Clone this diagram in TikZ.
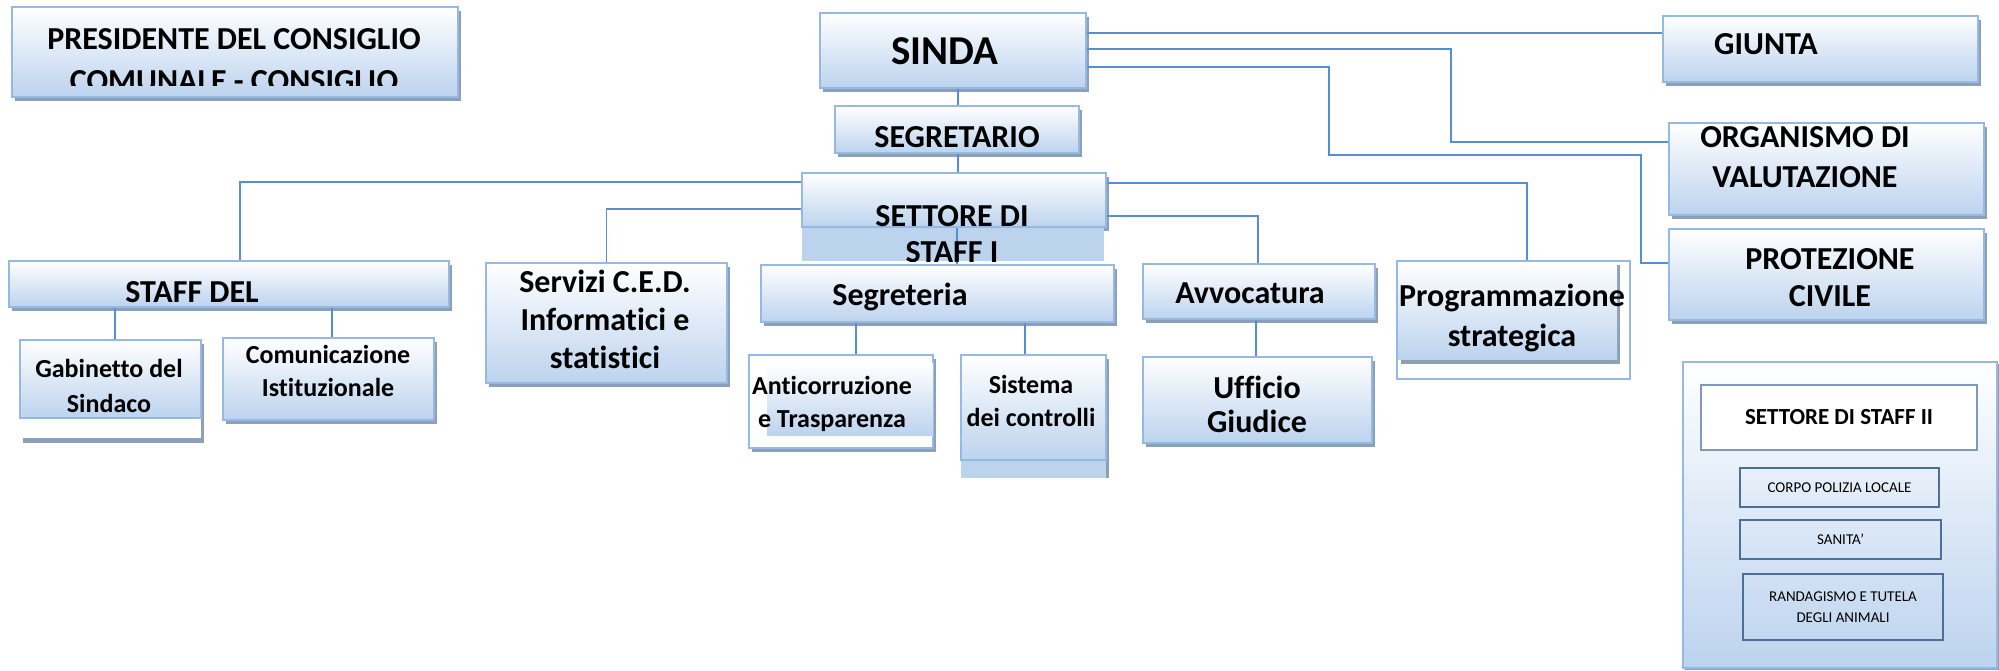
\documentclass[tikz,border=0pt]{standalone}
\usepackage{fontspec}
\setmainfont[Ligatures=NoCommon]{Carlito}
\usetikzlibrary{shadows}
\definecolor{bordo}{RGB}{150,185,228}
\definecolor{celeste}{RGB}{188,211,238}
\definecolor{grigio}{RGB}{140,160,185}
\definecolor{linea}{RGB}{85,142,213}
\definecolor{cornice}{RGB}{75,110,155}
\tikzset{
  ente/.style={draw=bordo, line width=2pt, top color=white, bottom color=celeste, inner sep=0pt},
  conombra/.style={drop shadow={shadow xshift=3pt, shadow yshift=-4pt, fill=grigio, opacity=1}},
  filo/.style={draw=linea, line width=1.3pt},
  testo/.style={font=\bfseries\fontsize{32}{39}\selectfont, align=center, inner sep=0pt},
  testino/.style={font=\bfseries\fontsize{26}{34}\selectfont, align=center, inner sep=0pt},
  voce/.style={draw=cornice, line width=1.6pt, inner sep=0pt, font=\fontsize{15}{21}\selectfont, align=center},
}
\begin{document}
\begin{tikzpicture}[x=1pt,y=-1pt]
  \useasboundingbox (0,0) rectangle (1999,671);
  \node[ente, conombra, minimum width=446pt, minimum height=90pt] (presidente) at (235,52) {};
  \node[ente, conombra, minimum width=266pt, minimum height=75pt] (sinda) at (953,50.5) {};
  \node[ente, conombra, minimum width=244pt, minimum height=47pt] (segretario) at (957,129.5) {};
  \node[ente, conombra, minimum width=304pt, minimum height=54pt] (settore) at (954,200) {};
  \fill[celeste] (802,228) rectangle (1104,261);
  \node[ente, conombra, minimum width=315pt, minimum height=66pt] (giunta) at (1820.5,49) {};
  \node[ente, conombra, minimum width=315pt, minimum height=92pt] (organismo) at (1826.5,169) {};
  \node[ente, conombra, minimum width=315pt, minimum height=91pt] (protezione) at (1826.5,274.5) {};
  \node[ente, conombra, minimum width=440pt, minimum height=46pt] (staffdel) at (229,284) {};
  \fill[grigio] (23,344) rectangle (204,443);
  \fill[white] (20,340) rectangle (201,438);
  \node[ente, minimum width=181pt, minimum height=78pt] (gabinetto) at (110.5,379) {};
  \node[ente, conombra, minimum width=211pt, minimum height=82pt] (comunicazione) at (328.5,379) {};
  \node[ente, conombra, minimum width=241pt, minimum height=120pt] (servizi) at (606.5,323) {};
  \node[ente, conombra, minimum width=353pt, minimum height=57pt] (segreteria) at (937.5,293.5) {};
  \node[draw=bordo, line width=2pt, fill=white, conombra, inner sep=0pt,
    minimum width=184pt, minimum height=93pt] (anticorr) at (841,401.5) {};
  \shade[top color=white, bottom color=celeste] (767,363) rectangle (933,435);
  \fill[grigio] (964,359) rectangle (1109,478);
  \fill[celeste] (961,458) rectangle (1106,478);
  \node[ente, minimum width=145pt, minimum height=105pt] (sistema) at (1033.5,407.5) {};
  \node[ente, conombra, minimum width=232pt, minimum height=55pt] (avvocatura) at (1259,291.5) {};
  \node[ente, conombra, minimum width=229pt, minimum height=86pt] (ufficio) at (1257.5,400) {};
  \node[draw=bordo, line width=2pt, fill=white, inner sep=0pt,
    minimum width=233pt, minimum height=118pt] (programmazione) at (1513.5,320) {};
  \fill[grigio] (1401,265) rectangle (1620,364);
  \shade[top color=white, bottom color=celeste] (1398,262) rectangle (1617,359);

  \node[ente, drop shadow={shadow xshift=2pt, shadow yshift=-2pt, fill=grigio, opacity=1},
    minimum width=314pt, minimum height=306pt] (staffdue) at (1840,515) {};
  \node[draw=cornice!70, line width=1.5pt, fill=white, inner sep=0pt, minimum width=276pt,
    minimum height=65pt, font=\bfseries\fontsize{23}{27}\selectfont] (staffdue-t) at (1839,417.5) {SETTORE DI STAFF II};
  \node[voce, minimum width=199pt, minimum height=39pt] (corpo) at (1839.5,487.5) {CORPO POLIZIA LOCALE};
  \node[voce, minimum width=201pt, minimum height=39pt] (sanita) at (1840.5,539.5) {SANITA’};
  \node[voce, minimum width=200pt, minimum height=66pt] (randagismo) at (1843,607) {RANDAGISMO E TUTELA\\DEGLI ANIMALI};

  \draw[filo] (sinda.east |- 0,33) -- (giunta.west |- 0,33);
  \draw[filo] (sinda.east |- 0,49) -| (1451,142) -- (organismo.west |- 0,142);
  \draw[filo] (sinda.east |- 0,67) -| (1329,155) -| (1641,263) -- (protezione.west |- 0,263);
  \draw[filo] (sinda.south -| 958,0) -- (segretario.north -| 958,0);
  \draw[filo] (segretario.south -| 958,0) -- (settore.north -| 958,0);
  \draw[filo] (settore.west |- 0,182) -| (staffdel.north -| 240,0);
  \draw[filo] (settore.west |- 0,209) -| (servizi.north);
  \draw[filo] (settore.east |- 0,183) -| (programmazione.north -| 1527,0);
  \draw[filo] (settore.east |- 0,216) -| (avvocatura.north -| 1258,0);
  \draw[filo] (settore.south -| 957,0) -- (segreteria.north -| 957,0);
  \draw[filo] (staffdel.south -| 115,0) -- (gabinetto.north -| 115,0);
  \draw[filo] (staffdel.south -| 332,0) -- (comunicazione.north -| 332,0);
  \draw[filo] (segreteria.south -| 856,0) -- (anticorr.north -| 856,0);
  \draw[filo] (segreteria.south -| 1025,0) -- (sistema.north -| 1025,0);
  \draw[filo] (avvocatura.south -| 1256,0) -- (ufficio.north -| 1256,0);

  \begin{scope}
    \clip (12,7) rectangle (458,86);
    \node[testo] (presidente-t) at (234,60) {PRESIDENTE DEL CONSIGLIO\\[3pt]COMUNALE - CONSIGLIO};
  \end{scope}
  \begin{scope}
    \clip (802,173) rectangle (1106,261);
    \node[testo] (settore-t) at (952,234) {SETTORE DI\\[-3pt]STAFF I};
  \end{scope}
  \node[testo, anchor=base, font=\bfseries\fontsize{41}{49}\selectfont] (sinda-t) at (945,65) {SINDA};
  \node[testo, anchor=base] (segretario-t) at (957,148) {SEGRETARIO};
  \node[testo, anchor=base] (giunta-t) at (1766,55) {GIUNTA};
  \node[testo] (organismo-t) at (1805,157.5) {ORGANISMO DI\\[1pt]VALUTAZIONE};
  \node[testo] (protezione-t) at (1830,277.5) {PROTEZIONE\\[-2pt]CIVILE};
  \node[testo, anchor=base] (staffdel-t) at (192,302) {STAFF DEL};
  \node[testino] (gabinetto-t) at (109,386) {Gabinetto del\\[1pt]Sindaco};
  \node[testino] (comunicazione-t) at (328,371) {Comunicazione\\[-1pt]Istituzionale};
  \node[testo] (servizi-t) at (605,319) {Servizi C.E.D.\\[-1pt]Informatici e\\[-1pt]statistici};
  \node[testo, anchor=base] (segreteria-t) at (900,305) {Segreteria};
  \node[testino] (anticorr-t) at (832,404) {Anticorruzione\\[-1pt]e Trasparenza};
  \node[testino] (sistema-t) at (1031,401) {Sistema\\[-1pt]dei controlli};
  \node[testo, anchor=base] (avvocatura-t) at (1250,303) {Avvocatura};
  \node[testo] (ufficio-t) at (1257,404.5) {Ufficio\\[-5pt]Giudice};
  \node[testo] (programmazione-t) at (1512,318) {Programmazione\\[1pt]strategica};
\end{tikzpicture}
\end{document}
